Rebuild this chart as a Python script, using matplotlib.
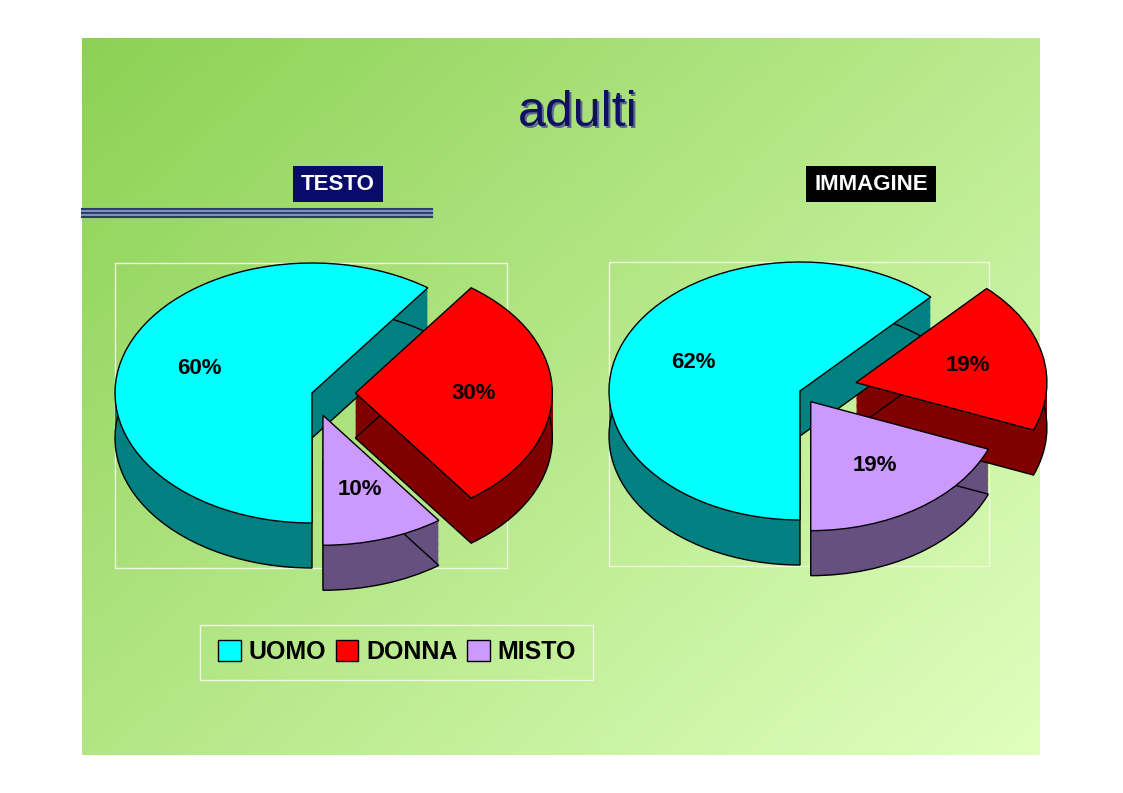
import numpy as np
import matplotlib
matplotlib.use("Agg")
import matplotlib.pyplot as plt
from matplotlib.patches import Rectangle

plt.rcParams['font.family'] = ['Liberation Sans', 'DejaVu Sans']

categories = ["UOMO", "DONNA", "MISTO"]
testo = [60, 30, 10]
immagine = [62, 19, 19]
titles = ["TESTO", "IMMAGINE"]

W, H = 1123, 793
fig = plt.figure(figsize=(W/100, H/100), dpi=100)
fig.patch.set_facecolor("white")

bg = fig.add_axes([0, 0, 1, 1])
bg.set_xlim(0, W); bg.set_ylim(H, 0); bg.axis("off")
yy, xx = np.mgrid[0:1:200j, 0:1:200j]
t = np.clip(0.55*xx + 0.45*yy, 0, 1)[..., None]
c0 = np.array([0.55, 0.82, 0.33]); c1 = np.array([0.88, 1.0, 0.75])
img = c0*(1-t) + c1*t
bg.imshow(img, extent=[82, 1040, 755, 38], aspect="auto", zorder=0)
for i in range(5):
    bg.plot([82, 432], [209+i*2, 209+i*2], color=["#2a3c6c", "#7f96b8"][i % 2], lw=1.5)
bg.text(580, 115, "adulti", fontsize=36, color="#5a6a90", ha="center", va="center", zorder=2)
bg.text(578, 113, "adulti", fontsize=36, color="#101060", ha="center", va="center", zorder=3)
bg.text(338, 184, titles[0], fontsize=16, color="white", weight="bold", ha="center", va="center",
        bbox=dict(boxstyle="square,pad=0.35", fc="#0a0a6a", ec="none"))
bg.text(871, 184, titles[1], fontsize=16, color="white", weight="bold", ha="center", va="center",
        bbox=dict(boxstyle="square,pad=0.35", fc="black", ec="none"))
for (x0, y0, x1, y1) in [(115, 263, 507, 568), (609, 262, 989, 566), (200, 625, 593, 680)]:
    bg.add_patch(Rectangle((x0, y0), x1-x0, y1-y0, fill=False, ec="#f0f8e0", lw=1))

top = ["#00ffff", "#ff0000", "#cc99ff"]
side = ["#008080", "#800000", "#66507f"]

def pie3d(vals, cx, cy, rx, ry, depth, explode):
    lim = 1.4
    ax = fig.add_axes([(cx-lim*rx)/W, 1-(cy+lim*ry)/H, 2*lim*rx/W, 2*lim*ry/H])
    d = depth/ry
    for off in np.linspace(d, 0, 40):
        ax.pie(vals, colors=side, startangle=270, counterclock=False, explode=explode,
               center=(0, -off), wedgeprops=dict(lw=0))
    ax.pie(vals, colors=side, startangle=270, counterclock=False, explode=explode,
           center=(0, -d), wedgeprops=dict(ec="black", lw=1))
    ax.pie(vals, colors=top, startangle=270, counterclock=False, explode=explode,
           wedgeprops=dict(ec="black", lw=1), autopct="%d%%", pctdistance=0.6,
           textprops=dict(fontsize=16, weight="bold", color="black"))
    ax.set_aspect("auto"); ax.set_xlim(-lim, lim); ax.set_ylim(-lim, lim); ax.axis("off")

pie3d(testo, 312, 393, 197, 130, 45, [0, 0.22, 0.18])
pie3d(immagine, 800, 391, 191, 129, 45, [0, 0.3, 0.1])

lax = fig.add_axes([0, 0, 1, 1]); lax.axis("off")
handles = [Rectangle((0, 0), 1, 1, fc=c, ec="black") for c in top]
lax.legend(handles, categories, loc="center", bbox_to_anchor=(397/W, 1-652/H), ncol=3,
           frameon=False, prop=dict(size=18, weight="bold"), handlelength=0.9,
           handleheight=0.9, columnspacing=0.4, handletextpad=0.3)
fig.savefig("out.png", dpi=100)
